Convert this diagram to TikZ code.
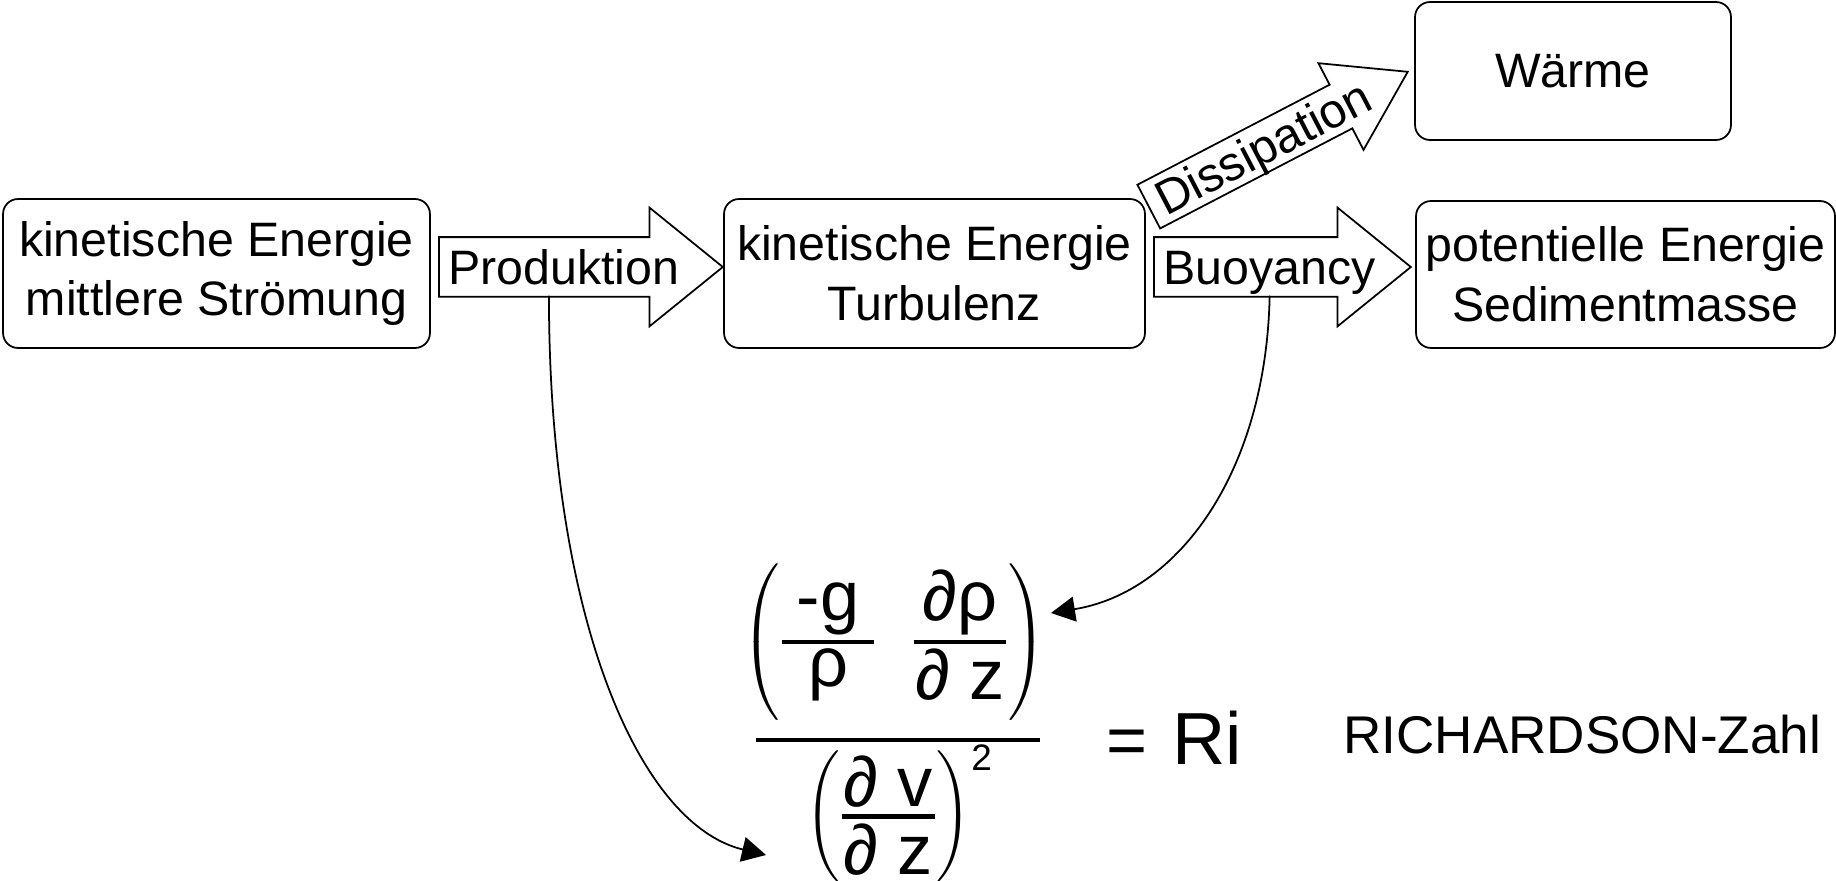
\RequirePackage{fix-cm}
\documentclass[tikz,border=0pt]{standalone}
\usepackage{amsmath}
\usepackage{fontspec}
\setmainfont{Liberation Sans}
\usetikzlibrary{calc,arrows.meta,shapes.arrows}

\newcommand{\boxfont}{\fontsize{27.5}{34}\selectfont}
\newcommand{\eqnfont}{\fontsize{40}{44}\selectfont}

\begin{document}
\begin{tikzpicture}[x=0.02cm,y=-0.02cm,line cap=round,
  box/.style={draw,rounded corners=0.3cm,line width=1pt,align=center,
    font=\boxfont,inner sep=0pt},
  blockarrow/.style={draw,single arrow,line width=1pt,inner xsep=0pt,
    inner ysep=0.58cm,minimum width=2.34cm,single arrow head extend=0.59cm,
    single arrow tip angle=78},
  arrowlabel/.style={font=\boxfont,inner xsep=0pt,inner ysep=6.7pt,
    text height=19.5pt,text depth=0pt},
  eqn/.style={font=\eqnfont,inner sep=0pt},
  flow/.style={line width=1pt,-{Triangle[length=0.48cm,width=0.5cm]}}]
  \useasboundingbox (0,0) rectangle (1836,881);

  % energy boxes
  \node[box,minimum width=8.54cm,minimum height=2.98cm] (mean) at (216.5,273.5)
       {kinetische Energie\\mittlere Strömung};
  \node[box,minimum width=8.42cm,minimum height=2.98cm] (turb) at (934.5,273.5)
       {kinetische Energie\\Turbulenz};
  \node[box,minimum width=6.32cm,minimum height=2.76cm] (heat) at (1573,71)
       {Wärme};
  \node[box,minimum width=8.38cm,minimum height=2.94cm] (pot) at (1625.5,274.5)
       {potentielle Energie\\Sedimentmasse};

  % block arrows
  \node[blockarrow,minimum height=5.68cm,anchor=tail] (prodarrow) at (438,267) {};
  \node[arrowlabel] (prodlbl) at ($(prodarrow.tail)!0.44!(prodarrow.tip)$) {Produktion};
  \node[blockarrow,minimum height=5.14cm,anchor=tail] (buoyarrow) at (1153,267) {};
  \node[arrowlabel] (buoylbl) at ($(buoyarrow.tail)!0.45!(buoyarrow.tip)$) {Buoyancy};
  \node[blockarrow,minimum height=5.84cm,minimum width=1.92cm,inner ysep=0.475cm,
        single arrow head extend=0.485cm,single arrow tip angle=66,
        rotate=27.5,anchor=tail] (dissarrow) at (1148,207) {};
  \node[arrowlabel,inner ysep=5pt,rotate=27.5] (disslbl)
       at ($(dissarrow.tail)!0.44!(dissarrow.tip)$) {Dissipation};

  % Richardson number
  \node[eqn,anchor=south] (num) at (894,721)
       {$\left(\genfrac{}{}{2.6pt}{1}{\makebox[1.85cm]{-g}}{\makebox{ρ}}
           \hspace{0.7cm}
           \genfrac{}{}{2.6pt}{1}{\makebox[1.85cm]{∂ρ}}{\makebox{∂ z}}\right)$};
  \node[eqn,anchor=north] (den) at (899,744)
       {$\left(\genfrac{}{}{2.6pt}{1}{\makebox[1.85cm]{∂ v}}{\makebox{∂ z}}\right)^{%
           \mbox{\fontsize{21}{24}\selectfont 2}}$};
  \draw[line width=2.8pt,line cap=butt] ($(num.south west)+(15,19)$)
       -- ($(num.south east)+(-7,19)$);
  \node[inner sep=0pt,anchor=base west] (ri) at (1106,764)
       {\eqnfont=\hspace{0.5cm}\fontsize{42}{48}\selectfont Ri};
  \node[font=\fontsize{30.2}{34}\selectfont,inner sep=0pt,anchor=base west] (rz)
       at (1343,753) {RICHARDSON-Zahl};

  \coordinate (prodend) at (766,855);
  \coordinate (buoyend) at (1051,613);
  \draw[flow] ([xshift=-0.3cm]prodlbl.south) .. controls (549,620) and (640,825) .. (prodend);
  \draw[flow] (buoylbl.south) .. controls (1266,470) and (1180,592) .. (buoyend);
\end{tikzpicture}
\end{document}
